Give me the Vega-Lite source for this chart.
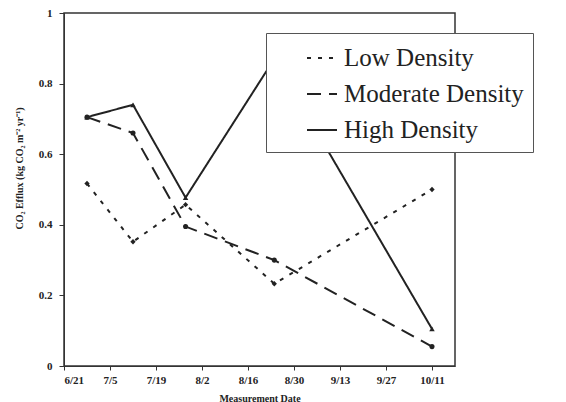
{
  "$schema": "https://vega.github.io/schema/vega-lite/v6.json",
  "autosize": "none",
  "width": 391,
  "height": 353,
  "padding": {"left": 64, "top": 13, "right": 111, "bottom": 36},
  "background": "white",
  "config": {
    "view": {"stroke": "#333", "strokeWidth": 1.5},
    "font": "Liberation Serif"
  },
  "data": {
    "values": [
      {"date": "2003-06-28", "series": "Low Density", "value": 0.517},
      {"date": "2003-07-12", "series": "Low Density", "value": 0.352},
      {"date": "2003-07-28", "series": "Low Density", "value": 0.457},
      {"date": "2003-08-24", "series": "Low Density", "value": 0.233},
      {"date": "2003-10-11", "series": "Low Density", "value": 0.5},
      {"date": "2003-06-28", "series": "Moderate Density", "value": 0.705},
      {"date": "2003-07-12", "series": "Moderate Density", "value": 0.66},
      {"date": "2003-07-28", "series": "Moderate Density", "value": 0.395},
      {"date": "2003-08-24", "series": "Moderate Density", "value": 0.3},
      {"date": "2003-10-11", "series": "Moderate Density", "value": 0.055},
      {"date": "2003-06-28", "series": "High Density", "value": 0.705},
      {"date": "2003-07-12", "series": "High Density", "value": 0.74},
      {"date": "2003-07-28", "series": "High Density", "value": 0.477},
      {"date": "2003-08-24", "series": "High Density", "value": 0.87},
      {"date": "2003-10-11", "series": "High Density", "value": 0.105}
    ]
  },
  "encoding": {
    "x": {
      "field": "date",
      "type": "temporal",
      "scale": {"domain": ["2003-06-21", "2003-10-18"]},
      "axis": {
        "title": "Measurement Date",
        "format": "%-m/%-d",
        "values": ["2003-06-21", "2003-07-05", "2003-07-19", "2003-08-02", "2003-08-16", "2003-08-30", "2003-09-13", "2003-09-27", "2003-10-11"],
        "grid": false,
        "domainColor": "#333",
        "tickColor": "#333",
        "tickSize": 4,
        "labelFont": "Liberation Serif",
        "labelFontWeight": "bold",
        "labelFontSize": 11,
        "labelColor": "#222",
        "labelPadding": 4,
        "titleFont": "Liberation Serif",
        "titleFontWeight": "bold",
        "titleFontSize": 10,
        "titleColor": "#222",
        "titlePadding": 8
      }
    },
    "y": {
      "field": "value",
      "type": "quantitative",
      "scale": {"domain": [0, 1]},
      "axis": {
        "title": "CO₂ Efflux (kg CO₂ m⁻² yr⁻¹)",
        "values": [0, 0.2, 0.4, 0.6, 0.8, 1],
        "format": "~g",
        "grid": false,
        "domainColor": "#333",
        "tickColor": "#333",
        "tickSize": 5,
        "labelFont": "Liberation Serif",
        "labelFontWeight": "bold",
        "labelFontSize": 11,
        "labelColor": "#222",
        "labelPadding": 7,
        "titleFont": "Liberation Serif",
        "titleFontWeight": "bold",
        "titleFontSize": 10,
        "titleColor": "#222",
        "titleY": 155,
        "titlePadding": 14
      }
    }
  },
  "layer": [
    {
      "mark": {"type": "line", "color": "#222", "strokeWidth": 2},
      "encoding": {
        "strokeDash": {
          "field": "series",
          "type": "nominal",
          "sort": ["Low Density", "Moderate Density", "High Density"],
          "scale": {
            "domain": ["Low Density", "Moderate Density", "High Density"],
            "range": [[4, 7], [14, 8], [1, 0]]
          },
          "legend": {
            "title": null,
            "orient": "none",
            "legendX": 202,
            "legendY": 20,
            "fillColor": "white",
            "strokeColor": "#555",
            "padding": 9,
            "symbolType": "stroke",
            "symbolSize": 900,
            "symbolStrokeWidth": 2,
            "symbolStrokeColor": "#222",
            "symbolOffset": 31,
            "labelFont": "Liberation Serif",
            "labelFontSize": 25,
            "labelColor": "#222",
            "labelOffset": 6,
            "labelLimit": 300,
            "rowPadding": 7
          }
        }
      }
    },
    {
      "transform": [{"filter": "datum.series === 'Low Density'"}],
      "mark": {"type": "point", "filled": true, "color": "#222", "size": 28, "opacity": 1, "shape": "diamond"}
    },
    {
      "transform": [{"filter": "datum.series === 'Moderate Density'"}],
      "mark": {"type": "point", "filled": true, "color": "#222", "size": 26, "opacity": 1, "shape": "circle"}
    },
    {
      "transform": [{"filter": "datum.series === 'High Density'"}],
      "mark": {"type": "point", "filled": true, "color": "#222", "size": 30, "opacity": 1, "shape": "triangle-up"}
    }
  ]
}
